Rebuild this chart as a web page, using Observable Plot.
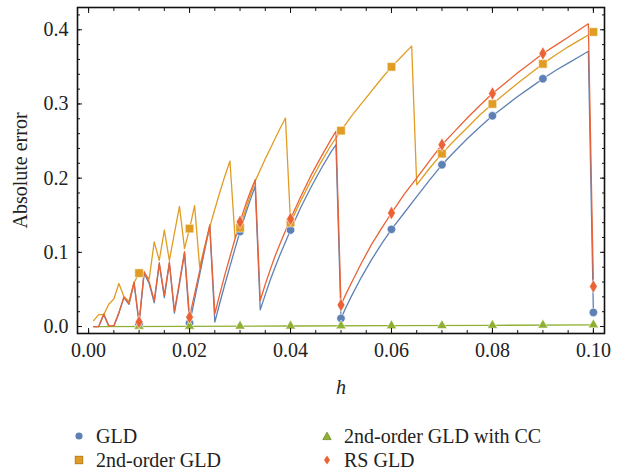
<!DOCTYPE html>
<html><head><meta charset="utf-8">
<script src="https://cdn.jsdelivr.net/npm/d3@7"></script>
<script src="https://cdn.jsdelivr.net/npm/@observablehq/plot@0.6"></script>
<style>
body{margin:0;background:#fff;font-family:"Liberation Serif",serif;}
#chart{position:relative;width:628px;height:469px;overflow:hidden;}
.legend{position:absolute;top:424px;left:0;width:628px;font-size:20px;color:#222;}
.row{height:24px;position:relative;}
.item{position:absolute;top:0;height:24px;display:flex;align-items:center;white-space:nowrap;}
.item svg{margin-right:12px;}
</style></head><body><div id="chart"></div><script>
// ---- data ----
const seriesNames = ["GLD", "2nd-order GLD", "2nd-order GLD with CC", "RS GLD"];
const seriesColors = ["#5E81B5", "#E19C24", "#8FB032", "#EB6235"];
const xTickLabels = [0, 0.02, 0.04, 0.06, 0.08, 0.10];
const yTickLabels = [0, 0.1, 0.2, 0.3, 0.4];

// GLD and RS GLD share a sampling grid
const sawH = [0.001,0.002,0.003,0.004,0.005,0.006,0.007,0.008,0.009,0.010,
  0.011,0.012,0.013,0.014,0.015,0.016,0.017,0.018,0.019,0.020,
  0.021,0.022,0.023,0.024,0.025,0.026,0.027,0.028,0.029,0.030,
  0.031,0.032,0.033,0.034,0.035,0.036,0.037,0.038,0.039,0.040,
  0.042,0.044,0.046,0.048,0.049,0.050,0.051,0.052,0.054,0.056,0.058,0.060,
  0.0625,0.065,0.0675,0.070,0.0725,0.075,0.0775,0.080,0.0825,0.085,0.0875,0.090,
  0.0925,0.095,0.097,0.099,0.100];
const gldErr = [0,0,0.016,0.0005,0.0005,0.018,0.039,0.030,0.059,0.003,
  0.072,0.058,0.032,0.084,0.039,0.085,0.018,0.057,0.099,0.004,
  0.037,0.070,0.103,0.135,0.006,0.032,0.057,0.081,0.105,0.128,
  0.150,0.170,0.189,0.0225,0.043,0.063,0.081,0.098,0.114,0.130,
  0.160,0.187,0.212,0.235,0.245,0.011,0.026,0.040,0.066,0.0895,0.111,0.131,
  0.153,0.175,0.197,0.218,0.236,0.253,0.269,0.284,0.297,0.310,0.322,0.334,
  0.345,0.355,0.363,0.371,0.019];
const rsErr = [0,0,0.017,0.001,0.001,0.019,0.040,0.031,0.060,0.006,
  0.074,0.060,0.035,0.086,0.042,0.087,0.021,0.060,0.101,0.013,
  0.044,0.075,0.106,0.137,0.017,0.044,0.070,0.094,0.118,0.141,
  0.162,0.181,0.198,0.035,0.057,0.077,0.096,0.113,0.129,0.145,
  0.175,0.203,0.228,0.252,0.263,0.029,0.044,0.058,0.085,0.110,0.132,0.153,
  0.178,0.200,0.223,0.245,0.263,0.281,0.298,0.314,0.328,0.342,0.355,0.368,
  0.379,0.390,0.399,0.408,0.054];

const secondH = [0.001,0.002,0.003,0.004,0.005,0.006,0.007,0.008,0.009,0.010,
  0.011,0.012,0.013,0.014,0.015,0.016,0.017,0.018,0.019,0.020,
  0.021,0.022,0.023,0.024,0.025,0.026,0.027,0.028,0.029,0.030,
  0.031,0.032,0.033,0.034,0.035,0.036,0.037,0.038,0.039,0.040,
  0.042,0.044,0.046,0.048,0.050,0.052,0.054,0.056,0.058,0.060,0.062,0.064,
  0.065,0.0675,0.070,0.0725,0.075,0.0775,0.080,0.0825,0.085,0.0875,0.090,
  0.0925,0.095,0.097,0.099,0.100];
const secondErr = [0.008,0.016,0.016,0.030,0.037,0.058,0.040,0.034,0.059,0.072,
  0.072,0.064,0.114,0.089,0.130,0.089,0.126,0.162,0.105,0.132,
  0.163,0.080,0.108,0.134,0.158,0.181,0.203,0.223,0.120,0.133,
  0.155,0.176,0.196,0.211,0.226,0.240,0.254,0.268,0.281,0.140,
  0.169,0.196,0.221,0.244,0.264,0.283,0.300,0.317,0.334,0.350,0.364,0.378,
  0.191,0.213,0.233,0.251,0.268,0.285,0.300,0.314,0.328,0.341,0.354,
  0.366,0.377,0.385,0.393,0.397];

const ccH = [0.001,0.02,0.04,0.06,0.08,0.10];
const ccErr = [0.0,0.0003,0.0007,0.0011,0.0016,0.0023];

// markers
const markH = [0.01,0.02,0.03,0.04,0.05,0.06,0.07,0.08,0.09,0.10];
const gldMarks = [0.003,0.0045,0.128,0.130,0.011,0.131,0.218,0.284,0.334,0.019];
const secondMarks = [0.072,0.132,0.133,0.140,0.264,0.350,0.233,0.300,0.354,0.397];
const ccMarks = [0.0003,0.0004,0.0005,0.0007,0.0009,0.0011,0.0013,0.0016,0.0019,0.0023];
const rsMarks = [0.006,0.0126,0.141,0.145,0.029,0.153,0.245,0.314,0.368,0.054];

// ---- build ----
const pts = (hs, vs) => hs.map((h, i) => ({h, v: vs[i]}));
const minorX = d3.range(0, 0.1001, 0.005);
const minorY = d3.range(0, 0.4201, 0.02);
const halo = {stroke: "white", strokeOpacity: 0.55, strokeWidth: 1};

const plot = Plot.plot({
  width: 628, height: 410,
  marginLeft: 77, marginRight: 24, marginTop: 7, marginBottom: 77,
  style: {fontFamily: '"Liberation Serif", serif', fontSize: "20px", color: "#222", background: "white", overflow: "visible"},
  x: {domain: [-0.0022, 0.1022]},
  y: {domain: [-0.0094, 0.43]},
  marks: [
    Plot.line(pts(sawH, gldErr), {x: "h", y: "v", stroke: seriesColors[0], strokeWidth: 1.3}),
    Plot.line(pts(secondH, secondErr), {x: "h", y: "v", stroke: seriesColors[1], strokeWidth: 1.3}),
    Plot.line(pts(ccH, ccErr), {x: "h", y: "v", stroke: seriesColors[2], strokeWidth: 1.3}),
    Plot.line(pts(sawH, rsErr), {x: "h", y: "v", stroke: seriesColors[3], strokeWidth: 1.3}),
    Plot.dot(pts(markH, gldMarks), {x: "h", y: "v", symbol: "circle", r: 4.2, fill: seriesColors[0], ...halo}),
    Plot.dot(pts(markH, secondMarks), {x: "h", y: "v", symbol: "square", r: 4.8, fill: seriesColors[1], ...halo}),
    Plot.dot(pts(markH, ccMarks), {x: "h", y: "v", symbol: "triangle", r: 3.8, fill: seriesColors[2], ...halo}),
    Plot.dot(pts(markH, rsMarks), {x: "h", y: "v", symbol: "diamond", r: 4.1, fill: seriesColors[3], ...halo}),
    Plot.frame({stroke: "#111", strokeWidth: 1.6}),
    // inward tick marks on all four sides
    Plot.axisX(minorX, {anchor: "bottom", tickSize: 3, dy: -3, tickFormat: () => "", label: null, stroke: "#111"}),
    Plot.axisX(xTickLabels, {anchor: "bottom", tickSize: 5, dy: -5, tickFormat: () => "", label: null, stroke: "#111"}),
    Plot.axisX(minorX, {anchor: "top", tickSize: 3, dy: 3, tickFormat: () => "", label: null, stroke: "#111"}),
    Plot.axisX(xTickLabels, {anchor: "top", tickSize: 5, dy: 5, tickFormat: () => "", label: null, stroke: "#111"}),
    Plot.axisY(minorY, {anchor: "left", tickSize: 3, dx: 3, tickFormat: () => "", label: null, stroke: "#111"}),
    Plot.axisY(yTickLabels, {anchor: "left", tickSize: 5, dx: 5, tickFormat: () => "", label: null, stroke: "#111"}),
    Plot.axisY(minorY, {anchor: "right", tickSize: 3, dx: -3, tickFormat: () => "", label: null, stroke: "#111"}),
    Plot.axisY(yTickLabels, {anchor: "right", tickSize: 5, dx: -5, tickFormat: () => "", label: null, stroke: "#111"}),
    // tick labels
    Plot.axisX(xTickLabels, {anchor: "bottom", tickSize: 0, tickPadding: 9, tickFormat: d3.format(".2f"), label: null, fill: "#222"}),
    // italic axis title "h"
    Plot.axisX(xTickLabels, {anchor: "bottom", tickSize: 0, tickFormat: () => "", label: "h", labelAnchor: "center", labelOffset: 60, labelArrow: "none", fill: "#222", fontStyle: "italic"}),
    Plot.axisY(yTickLabels, {anchor: "left", tickSize: 0, tickPadding: 9, tickFormat: d3.format(".1f"), label: "Absolute error", labelAnchor: "center", labelOffset: 65, labelArrow: "none", fill: "#222"})
  ]
});

const chart = document.getElementById("chart");
chart.appendChild(plot);

// legend
const icon = (kind, color) => {
  const s = {
    circle: `<circle cx="5" cy="5" r="3.6" fill="${color}"/>`,
    square: `<rect x="1.3" y="1.3" width="7.4" height="7.4" fill="${color}" stroke="#b9791a" stroke-width="1"/>`,
    triangle: `<path d="M5,1.2L9.2,8.6L0.8,8.6Z" fill="${color}" stroke="#6f8c22" stroke-width="0.8"/>`,
    diamond: `<path d="M5,0.5L8,5L5,9.5L2,5Z" fill="${color}"/>`
  }[kind];
  return `<svg width="10" height="10" viewBox="0 0 10 10">${s}</svg>`;
};
const symbols = ["circle", "square", "triangle", "diamond"];
const layout = [[0, 74], [2, 322], [1, 74], [3, 322]];
const legend = document.createElement("div");
legend.className = "legend";
const rows = [document.createElement("div"), document.createElement("div")];
rows.forEach(r => { r.className = "row"; legend.appendChild(r); });
layout.forEach(([si, left], k) => {
  const it = document.createElement("div");
  it.className = "item";
  it.style.left = left + "px";
  it.innerHTML = icon(symbols[si], seriesColors[si]) + `<span>${seriesNames[si]}</span>`;
  rows[k < 2 ? 0 : 1].appendChild(it);
});
chart.appendChild(legend);
</script></body></html>
